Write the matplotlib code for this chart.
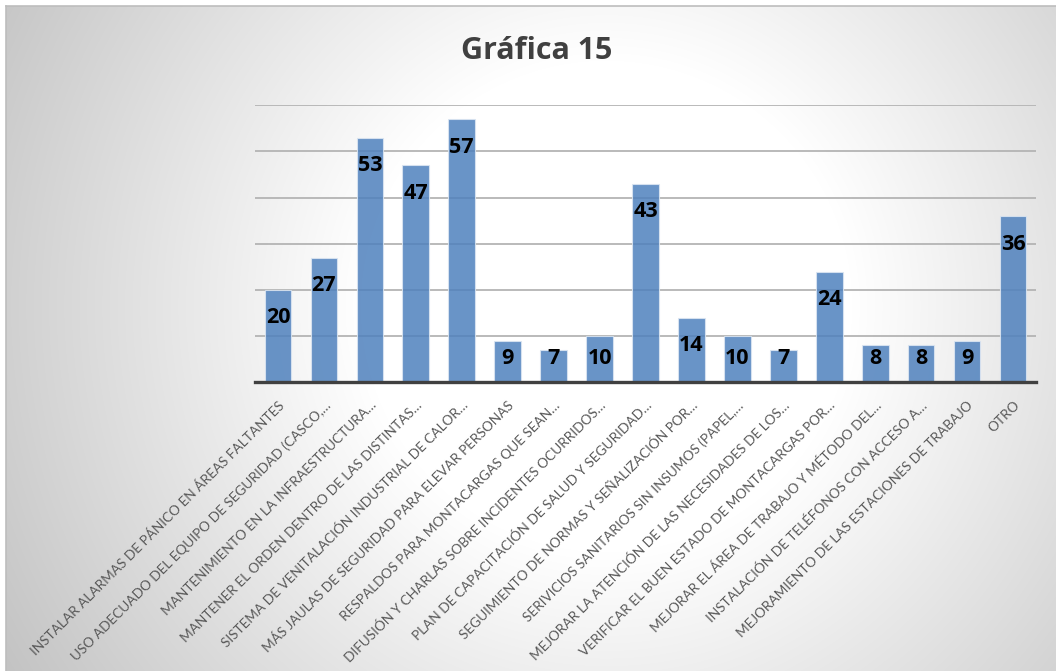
import matplotlib.pyplot as plt
import numpy as np

plt.rcParams['font.family'] = ['Lato', 'DejaVu Sans']

categories = [
    'INSTALAR ALARMAS DE PÁNICO EN ÁREAS FALTANTES',
    'USO ADECUADO DEL EQUIPO DE SEGURIDAD (CASCO,…',
    'MANTENIMIENTO EN LA INFRAESTRUCTURA…',
    'MANTENER EL ORDEN DENTRO DE LAS DISTINTAS…',
    'SISTEMA DE VENITALACIÓN INDUSTRIAL DE CALOR…',
    'MÁS JAULAS DE SEGURIDAD PARA ELEVAR PERSONAS',
    'RESPALDOS PARA MONTACARGAS QUE SEAN…',
    'DIFUSIÓN Y CHARLAS SOBRE INCIDENTES OCURRIDOS…',
    'PLAN DE CAPACITACIÓN DE SALUD Y SEGURIDAD…',
    'SEGUIMIENTO DE NORMAS Y SEÑALIZACIÓN POR…',
    'SERIVICIOS SANITARIOS SIN INSUMOS (PAPEL,…',
    'MEJORAR LA ATENCIÓN DE LAS NECESIDADES DE LOS…',
    'VERIFICAR EL BUEN ESTADO DE MONTACARGAS POR…',
    'MEJORAR EL ÁREA DE TRABAJO Y MÉTODO DEL…',
    'INSTALACIÓN DE TELÉFONOS CON ACCESO A…',
    'MEJORAMIENTO DE LAS ESTACIONES DE TRABAJO',
    'OTRO',
]
values = [20, 27, 53, 47, 57, 9, 7, 10, 43, 14, 10, 7, 24, 8, 8, 9, 36]

W, H = 1056, 671
fig = plt.figure(figsize=(W / 100, H / 100), dpi=100)

# radial grey-to-white background of the chart area
bg = fig.add_axes([6 / W, 0, (W - 6) / W, (H - 6) / H], zorder=-2)
yy, xx = np.mgrid[0:H - 6, 0:W - 6]
cx, cy = 600, 300
r = np.hypot(xx - cx, yy - cy)
r = r / r.max()
shade = 255 - np.clip((r - 0.35) / 0.65, 0, 1) * 60
img = np.dstack([shade, shade, shade]) / 255
bg.imshow(img, aspect='auto', interpolation='bilinear')
bg.set_axis_off()
fig.add_artist(plt.Line2D([6 / W, 6 / W], [0, 1 - 6 / H], color='#bdbdbd', lw=1.2))
fig.add_artist(plt.Line2D([6 / W, 1], [1 - 6 / H, 1 - 6 / H], color='#bdbdbd', lw=1.2))

ax = fig.add_axes([255 / W, (H - 382.3) / H, 781 / W, 277 / H])
ax.set_facecolor('none')
x = np.arange(len(values))
ax.bar(x, values, width=0.58, color='#4f81bd', alpha=0.85,
       edgecolor='#dce6f2', linewidth=0.8, zorder=3)

for i, v in enumerate(values):
    ax.text(i, max(v - 6.06, 5.26), str(v), ha='center', va='center',
            fontsize=15.5, fontweight='bold', color='black', zorder=4,
            family=['Open Sans', 'DejaVu Sans'])

ax.set_xlim(-0.5, 16.5)
ax.set_ylim(0, 60)
ax.set_yticks(range(0, 61, 10))
ax.yaxis.grid(True, color='#b4b4b4', linewidth=1.3, zorder=1)
ax.tick_params(axis='y', length=0, labelleft=False)
ax.set_xticks(x)
ax.set_xticklabels(categories, rotation=45, ha='right', rotation_mode='anchor',
                   fontsize=9.8, color='#595959')
ax.tick_params(axis='x', length=0, pad=12)
for side in ['top', 'left', 'right']:
    ax.spines[side].set_visible(False)
ax.spines['bottom'].set_color('#404040')
ax.spines['bottom'].set_linewidth(2.4)
ax.spines['bottom'].set_zorder(5)

fig.text(537 / W, 1 - 51 / H, 'Gráfica 15', ha='center', va='center',
         fontsize=22, fontweight='bold', color='#404040',
         family=['Open Sans', 'DejaVu Sans'])

fig.savefig('out.png', dpi=100)
